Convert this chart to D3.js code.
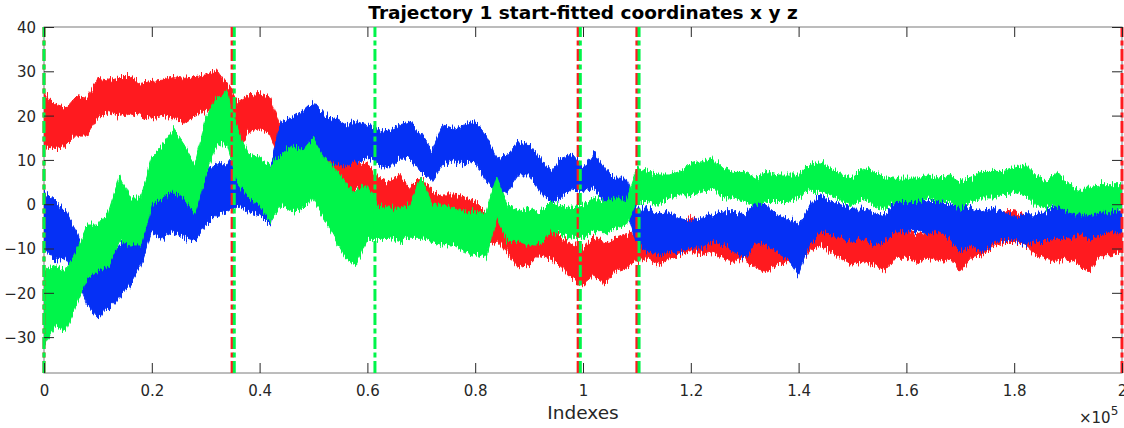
<!DOCTYPE html>
<html>
<head>
<meta charset="utf-8">
<script src="https://cdn.jsdelivr.net/npm/d3@7"></script>
<style>
  html, body { margin: 0; padding: 0; background: #fff; }
  svg { display: block; font-family: "DejaVu Sans", sans-serif; }
</style>
</head>
<body>
<svg id="chart" width="1124" height="428"></svg>
<script>
// ---------- data (envelope hi/lo every 2000 indexes) ----------
const sampleIndex = [0,2000,4000,6000,8000,10000,12000,14000,16000,18000,20000,22000,24000,26000,28000,30000,32000,34000,36000,38000,40000,42000,44000,46000,48000,50000,52000,54000,56000,58000,60000,62000,64000,66000,68000,70000,72000,74000,76000,78000,80000,82000,84000,86000,88000,90000,92000,94000,96000,98000,100000,102000,104000,106000,108000,110000,112000,114000,116000,118000,120000,122000,124000,126000,128000,130000,132000,134000,136000,138000,140000,142000,144000,146000,148000,150000,152000,154000,156000,158000,160000,162000,164000,166000,168000,170000,172000,174000,176000,178000,180000,182000,184000,186000,188000,190000,192000,194000,196000,198000,200000];

const xHi = [25,22.4,21.6,24.3,23.9,28.4,28,28.8,28.8,27.3,27.7,28,28.8,28.4,28.8,29.2,30.3,26.9,23.1,24.7,25,23.9,17.1,17.1,15.6,14.9,14.1,11.1,8.9,9.6,8.9,5.9,5.1,6.6,3.6,5.9,2.9,2.1,2.1,1.4,0.6,-1.7,-3.2,-4.7,-6.9,-6.2,-4.7,-5.4,-7.7,-9.2,-10,-7.7,-8.4,-7.7,-6.9,-6.2,-5.4,-6.2,-4.7,-3.9,-3.2,-3.9,-3.9,-5.4,-6.2,-4.7,-6.2,-7.7,-8.4,-6.9,-6.2,-1.7,-3.9,-4.7,-6.2,-6.2,-6.9,-6.9,-7.7,-6.2,-6.2,-6.9,-6.2,-6.2,-6.2,-8.4,-6.2,-4.7,-3.2,-1.7,-1.7,-2.4,-5.4,-6.9,-6.2,-5.4,-6.2,-6.2,-4.7,-5.4,-4.7];
const xLo = [13,12.6,13,15.6,15.6,19.4,20.9,20,20.9,19.8,19.4,20.1,19.4,18.3,20.1,20.9,21.6,17.9,11.9,16.4,17.1,15.3,8.9,10.4,9.6,8.9,7.4,5.1,2.1,3.6,2.1,-0.9,-1.7,-1.7,-1.7,-3.2,-3.9,-4.7,-4.7,-6.2,-7.7,-9.2,-8.4,-10.7,-14.4,-13.7,-11.4,-12.2,-14.4,-16.7,-18,-16,-18.2,-15.2,-14.4,-12.9,-12.2,-13.7,-12.2,-11.4,-10.7,-11.4,-10.7,-12.2,-12.9,-12.2,-14.4,-15.2,-13.7,-12.9,-13.7,-10.7,-9.2,-10.7,-12.2,-13.7,-12.9,-13.7,-15.2,-12.2,-12.2,-12.9,-12.2,-12.9,-12.2,-15.2,-12.2,-11.4,-9.9,-8.4,-8.4,-9.2,-11.4,-12.2,-12.9,-12.2,-13.7,-15.2,-11.4,-11.4,-10.7];

const yHi = [3,1,-1.7,-6.2,-12.2,-13.7,-12.2,-9.2,-7.7,-6.2,1.4,2.9,3.6,3.6,2.9,7.4,8.9,8.9,12,10.4,8.9,8.9,18.6,19.4,20.9,23.1,20.1,19.4,17.9,18.6,17.9,17.1,16.4,17.9,18.6,15.6,11.9,17.9,17.1,17.9,18.6,15.6,10.4,11.1,14.1,13.4,10.4,7.4,10.4,11.1,8.1,11.9,8.1,5.9,5.9,-0.9,-0.9,-2.4,-1.7,-3.2,-3.9,-3.2,-2.4,-1.7,-1.7,-2.4,0.6,-0.2,-2.4,-3.2,-4.7,-0.2,2.1,0.6,-0.2,-0.9,-0.9,-1.7,-2.4,0.6,0.6,1.4,0.6,0.6,-0.2,-0.2,-0.9,-1.7,-0.9,-1.7,-3.2,-2.4,-2.4,-1.7,-0.2,1.4,-0.9,-1.7,-1.7,-0.9,-1.7];
const yLo = [-10,-13,-12.2,-16.7,-22.7,-25.7,-23.5,-21.2,-18.2,-13.7,-6.2,-7.7,-6.2,-7.7,-8.4,-4.7,-2.4,-1.7,0,-1.7,-2.4,-4.7,8.9,8.9,10.4,11.1,10.4,8.9,8.9,9.6,10.4,8.9,8.1,10.4,10.4,7.4,5.1,8.9,9.6,8.9,9.6,5.1,2.1,2.9,6.6,6.6,2.9,0.6,1.4,3.6,2.9,3.6,0.6,-1.7,-0.9,-9.2,-10.7,-11.4,-10.7,-10.7,-9.9,-9.9,-8.4,-9.2,-10.7,-12.2,-8.4,-9.2,-10.7,-12.2,-16,-9.2,-6.2,-6.9,-7.7,-8.4,-7.7,-9.2,-8.4,-6.2,-6.2,-6.2,-6.2,-6.2,-7.7,-10.7,-9.2,-10.7,-9.2,-7.7,-7.7,-9.2,-8.4,-8.4,-7.7,-7.7,-6.9,-7.7,-6.9,-6.2,-6.2];

const zHi = [-15,-13.7,-15.2,-10.7,-4.7,-4.7,-1.7,6.6,1.4,1.4,10.4,13.4,17.1,13.4,8.9,19.4,23.9,25.4,16.4,11.1,10.4,8.9,11.1,13.4,11.9,14.9,10.4,8.1,4.4,2.9,4.4,-0.2,-0.9,-0.9,-0.2,5.9,-0.2,-0.2,-0.9,-1.7,-1.7,-1.7,5.9,-0.2,-1.7,-0.9,-1.7,0.6,-0.2,-0.9,-0.2,1.4,0.6,1.4,0.6,8.1,7.4,6.6,6.6,7.4,8.9,9.6,10.4,8.1,7.4,7.4,5.9,7.4,6.6,6.6,6.6,8.9,9.6,8.1,6.6,5.9,8.1,7.4,5.9,5.9,5.9,5.9,6.6,5.9,6.6,5.1,5.9,7.4,7.4,7.4,8.1,8.9,6.6,5.1,7.4,4.4,3.6,3.6,4.4,4.4,4.4];
const zLo = [-32,-27.2,-28.7,-22.7,-16.7,-15.2,-13.7,-8.4,-9.2,-9.2,-0.2,1.4,2.9,1.4,-2.4,6.6,13.4,13.4,4.4,1.4,-0.2,-3.9,-0.2,-1.7,-0.9,1.4,-3.2,-7.7,-12.2,-13.7,-7.7,-7.7,-7.7,-8.4,-7.7,-7.7,-8.4,-9.2,-9.2,-10.7,-11.4,-12.2,-3.2,-8.4,-8.4,-9.2,-9.2,-6.2,-6.9,-7.7,-7.7,-6.2,-6.2,-5.4,-4.7,0.6,0.6,-0.2,1.4,2.1,2.1,2.9,3.6,1.4,1.4,0.6,-0.2,0.6,0.6,0.6,1.4,2.9,2.9,2.1,0.6,-0.2,1.4,-0.2,-0.9,0.6,0.6,0.6,1.4,0.6,0.6,-0.9,0.6,1.4,1.4,2.1,2.9,2.1,-0.2,-0.9,-0.2,-1.7,-2.4,-2.4,-1.7,-1.7,-0.9];

// segment boundaries (dash-dot vertical markers)
const redBreaks = [0, 34900, 99100, 110000, 200000];
const greenBreaks = [0, 35300, 61400, 99500, 110400];

const xTicks = [0, 20000, 40000, 60000, 80000, 100000, 120000, 140000, 160000, 180000, 200000];
const xTickLabels = ["0", "0.2", "0.4", "0.6", "0.8", "1", "1.2", "1.4", "1.6", "1.8", "2"];
const yTicks = [-30, -20, -10, 0, 10, 20, 30, 40];

const titleText = "Trajectory 1 start-fitted coordinates x y z";
const xLabelText = "Indexes";

// ---------- layout ----------
const svg = d3.select("#chart");
const L = 44, R = 1122, T = 27, B = 373;
const x = d3.scaleLinear().domain([0, 200000]).range([L, R]);
const y = d3.scaleLinear().domain([-38.1, 40]).range([B, T]);

const defs = svg.append("defs");
defs.append("clipPath").attr("id", "clip")
  .append("rect").attr("x", L).attr("y", T).attr("width", R - L).attr("height", B - T);

// rendering texture: jagged vertical edges like a dense noisy trace
const filt = defs.append("filter").attr("id", "rough")
  .attr("filterUnits", "userSpaceOnUse").attr("x", 0).attr("y", 0)
  .attr("width", 1124).attr("height", 428)
  .attr("color-interpolation-filters", "sRGB");
filt.append("feTurbulence").attr("type", "fractalNoise")
  .attr("baseFrequency", "0.8 0.04").attr("numOctaves", 2).attr("seed", 4).attr("result", "n");
filt.append("feColorMatrix").attr("in", "n").attr("type", "matrix")
  .attr("values", "0 0 0 0 0.5  1 0 0 0 0  0 0 0 0 0  0 0 0 0 1").attr("result", "m");
filt.append("feDisplacementMap").attr("in", "SourceGraphic").attr("in2", "m")
  .attr("scale", 14).attr("xChannelSelector", "R").attr("yChannelSelector", "G");

const plot = svg.append("g").attr("clip-path", "url(#clip)");

const series = [
  { hi: xHi, lo: xLo, color: "#ff1a1f" },
  { hi: yHi, lo: yLo, color: "#0530f5" },
  { hi: zHi, lo: zLo, color: "#00f54a" }
];

series.forEach(s => {
  const rows = sampleIndex.map((t, i) => ({ t, hi: s.hi[i], lo: s.lo[i] }));
  const area = d3.area().x(d => x(d.t)).y0(d => y(d.lo)).y1(d => y(d.hi));
  plot.append("g").attr("filter", "url(#rough)")
    .append("path").datum(rows).attr("d", area)
    .attr("fill", s.color).attr("stroke", s.color).attr("stroke-width", 1);
});

const marks = svg.append("g");
function breakLines(list, color) {
  marks.selectAll(null).data(list).enter().append("line")
    .attr("x1", d => x(d)).attr("x2", d => x(d))
    .attr("y1", B).attr("y2", T)
    .attr("stroke", color).attr("stroke-width", 3)
    .attr("stroke-dasharray", "12,3.5,5,3.5");
}
breakLines(redBreaks, "#ff1a1f");
breakLines(greenBreaks, "#00f54a");

// ---------- axes ----------
const axisColor = "#262626";
svg.insert("rect", "g").attr("x", L).attr("y", T).attr("width", R - L).attr("height", B - T)
  .attr("fill", "none").attr("stroke", "#7a7a7a").attr("stroke-width", 1);

const xb = svg.append("g").attr("transform", `translate(0,${B})`)
  .call(d3.axisBottom(x).tickValues(xTicks).tickFormat((d, i) => xTickLabels[i]).tickSizeInner(-10).tickSizeOuter(0).tickPadding(12));
const xt = svg.append("g").attr("transform", `translate(0,${T})`)
  .call(d3.axisTop(x).tickValues(xTicks).tickFormat("").tickSizeInner(-10).tickSizeOuter(0));
const yl = svg.append("g").attr("transform", `translate(${L},0)`)
  .call(d3.axisLeft(y).tickValues(yTicks).tickFormat(d3.format("d")).tickSizeInner(-10).tickSizeOuter(0).tickPadding(8));
const yr = svg.append("g").attr("transform", `translate(${R},0)`)
  .call(d3.axisRight(y).tickValues(yTicks).tickFormat("").tickSizeInner(-10).tickSizeOuter(0));

[xb, xt, yl, yr].forEach(g => {
  g.select(".domain").remove();
  g.selectAll(".tick line").attr("stroke", axisColor).attr("stroke-width", 1);
  g.selectAll(".tick text").attr("fill", axisColor)
    .style("font-family", "'DejaVu Sans', sans-serif").style("font-size", "15px");
});
yl.selectAll(".tick text").attr("dy", "0.36em");

// labels
svg.append("text").attr("x", (L + R) / 2).attr("y", 19)
  .attr("text-anchor", "middle").attr("font-weight", "bold").attr("font-size", 18.5)
  .attr("fill", "#000").text(titleText);

svg.append("text").attr("x", (L + R) / 2).attr("y", 419)
  .attr("text-anchor", "middle").attr("font-size", 18.5)
  .attr("fill", axisColor).text(xLabelText);

const expo = svg.append("text").attr("x", 1079).attr("y", 423)
  .attr("font-size", 15).attr("fill", axisColor);
expo.append("tspan").text("\u00d710");
expo.append("tspan").attr("dy", -8).attr("font-size", 12).text("5");
</script>
</body>
</html>
